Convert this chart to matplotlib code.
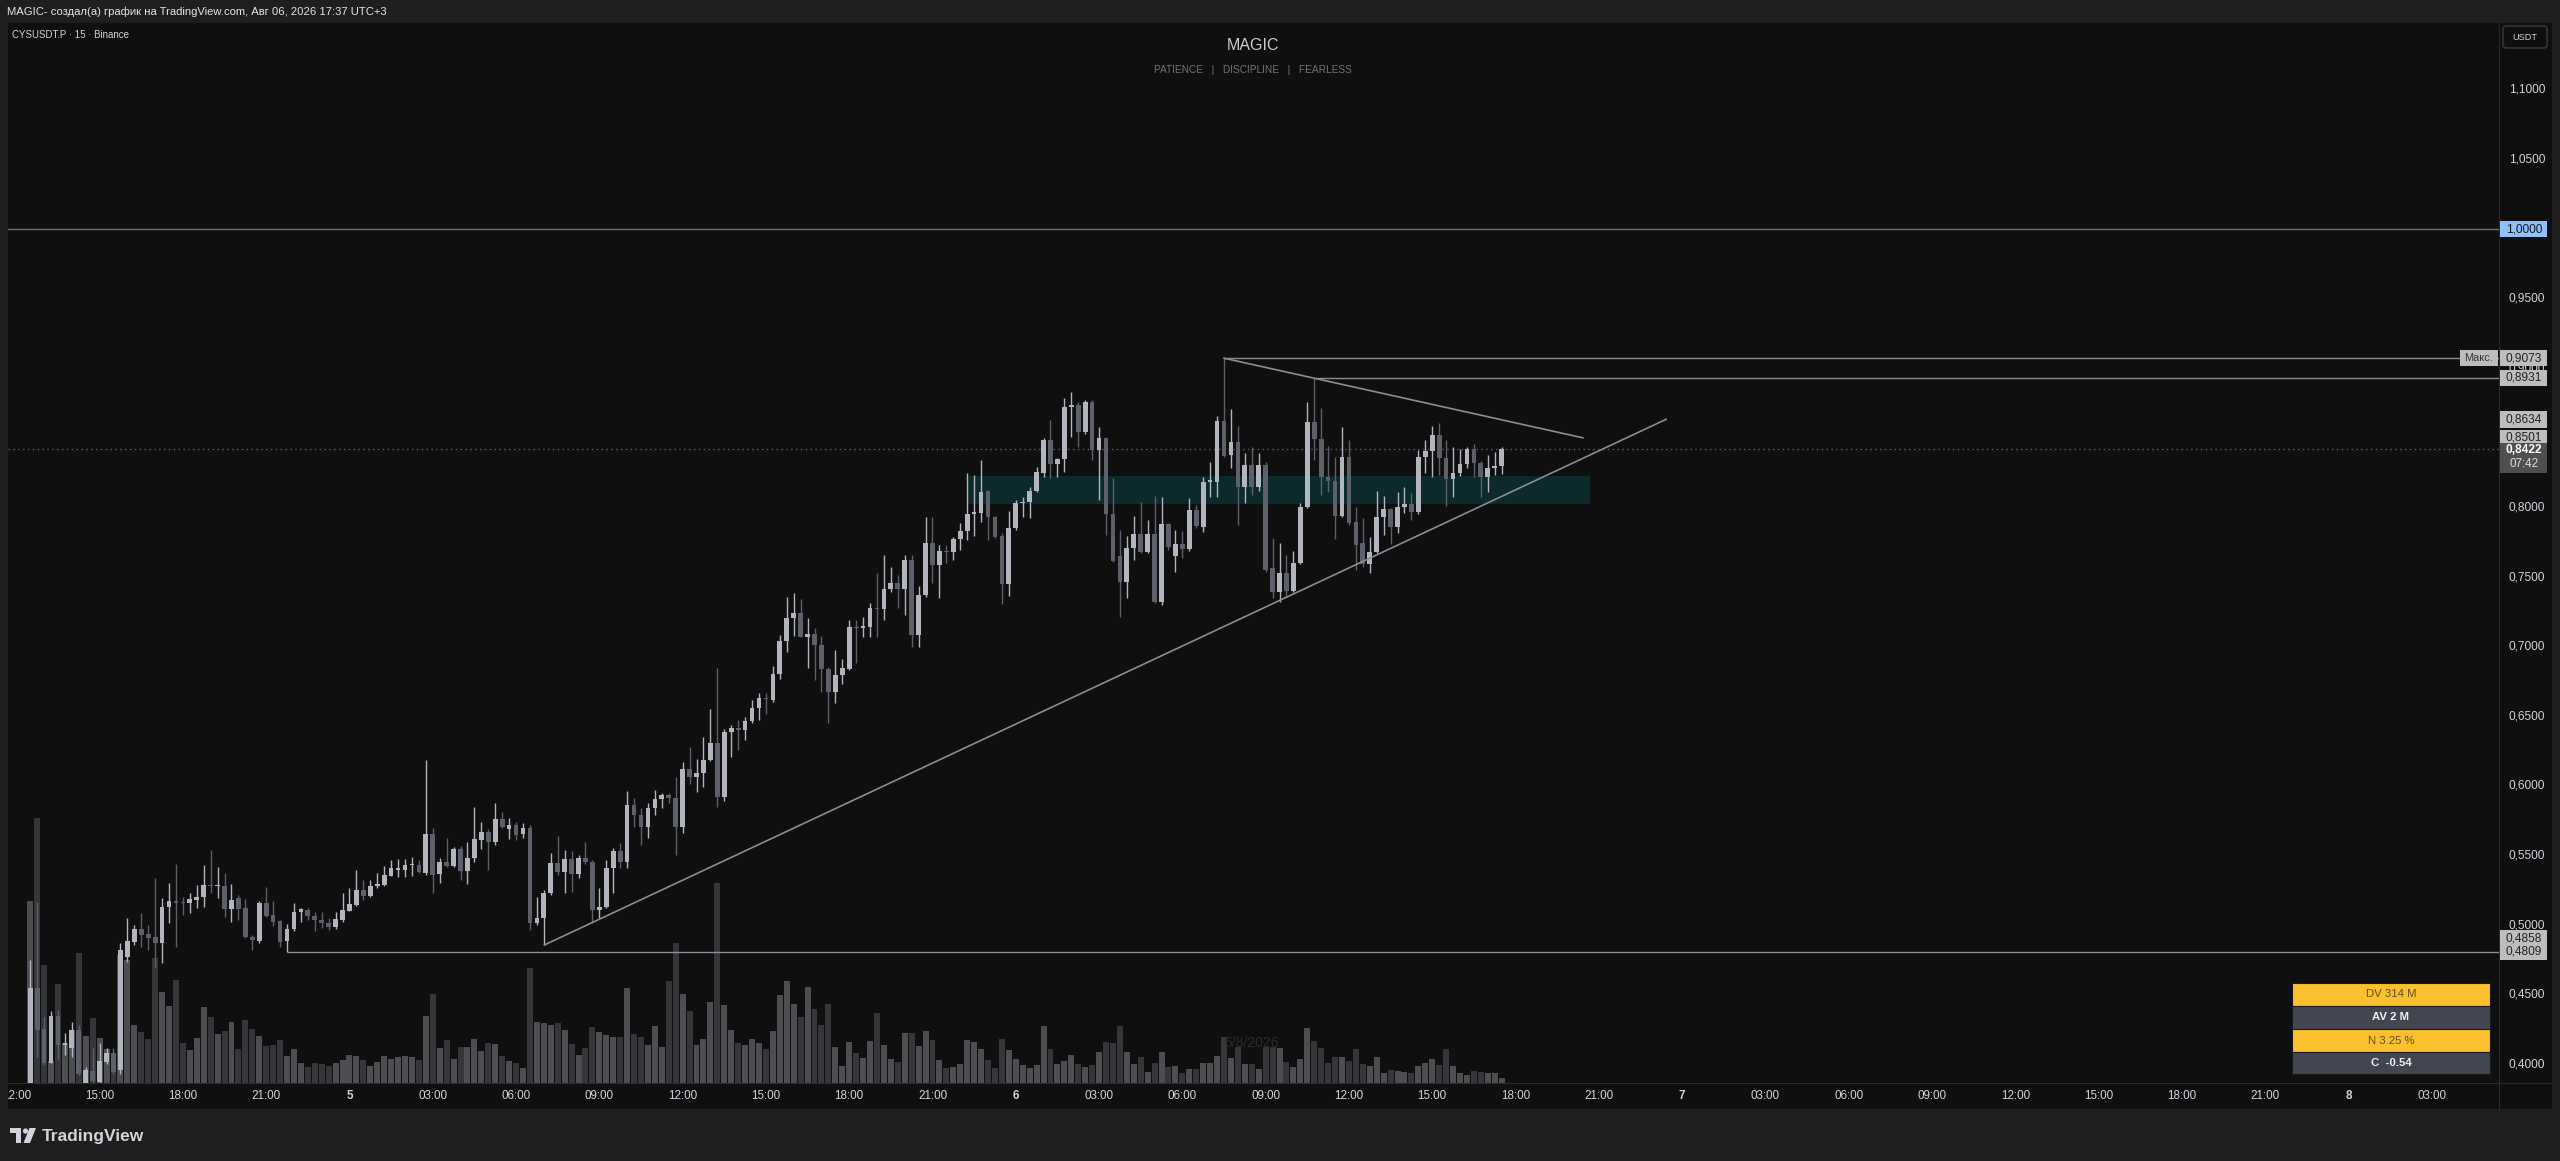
import numpy as np
import matplotlib.pyplot as plt
from matplotlib.patches import Rectangle, FancyBboxPatch, Polygon, Circle
from matplotlib.transforms import blended_transform_factory as blend, IdentityTransform

plt.rcParams['font.family'] = ['Liberation Sans', 'DejaVu Sans']

# CYSUSDT.P 15m candles, bar index 0 = 5 Apr 00:00 (UTC+3)
FIRST_BAR = -46
opens = [
    .3700, .4546, .4252, .4013, .4348, .4139, .4115, .4247, .3864, .3955,
    .3870, .4020, .4080, .3960, .4774, .4882, .4970, .4937, .4918, .4875,
    .5128, .5176, .5169, .5162, .5181, .5200, .5289, .5282, .5282, .5114,
    .5193, .5121, .4918, .4889, .5162, .5073, .5033, .4889, .4970, .5097,
    .5109, .5066, .5037, .5018, .4990, .5037, .5105, .5145, .5253, .5210,
    .5282, .5289, .5354, .5397, .5397, .5430, .5433, .5378, .5655, .5368,
    .5456, .5428, .5545, .5392, .5480, .5612, .5672, .5600, .5761, .5694,
    .5720, .5655, .5696, .5013, .5054, .5234, .5444, .5385, .5473, .5366,
    .5480, .5456, .5109, .5133, .5409, .5535, .5456, .5864, .5792, .5703,
    .5840, .5904, .5935, .5911, .5708, .6120, .6067, .6091, .6187, .6311,
    .5919, .6390, .6414, .6402, .6469, .6558, .6630, .6618, .6805, .7044,
    .7205, .7245, .7073, .7092, .7013, .6838, .6678, .6797, .6840, .7145,
    .7133, .7140, .7281, .7270, .7413, .7461, .7413, .7624, .7085, .7372,
    .7748, .7588, .7691, .7681, .7772, .7834, .7954, .7960, .8122, .7935,
    .7796, .7451, .7851, .8031, .8043, .8122, .8250, .8486, .8313, .8347,
    .8725, .8737, .8545, .8761, .8414, .8498, .7954, .7650, .7468, .7707,
    .7810, .7683, .7810, .7324, .7882, .7652, .7738, .7700, .7983, .7863,
    .8186, .8186, .8625, .8378, .8474, .8146, .8306, .8150, .8306, .7564,
    .7396, .7528, .7403, .7604, .8007, .8617, .8490, .8222, .8194, .7940,
    .8366, .7897, .7748, .7595, .7683, .7930, .7988, .7863, .8007, .8026,
    .7971, .8366, .8409, .8522, .8354, .8203, .8251, .8313, .8419, .8323,
    .8217, .8282, .8299,
]
highs = [
    .4750, .5169, .4343, .4386, .4391, .4223, .4307, .4283, .3984, .4115,
    .4151, .4115, .4115, .4870, .5049, .5002, .5090, .5002, .5337, .5193,
    .5301, .5440, .5205, .5228, .5289, .5433, .5540, .5421, .5377, .5296,
    .5217, .5186, .4930, .5176, .5277, .5176, .5037, .5009, .5157, .5121,
    .5121, .5097, .5097, .5049, .5097, .5233, .5265, .5397, .5325, .5325,
    .5373, .5425, .5468, .5473, .5473, .5488, .5468, .6190, .5696, .5480,
    .5624, .5564, .5569, .5600, .5852, .5744, .5689, .5880, .5816, .5768,
    .5744, .5737, .5720, .5205, .5253, .5516, .5641, .5540, .5535, .5504,
    .5600, .5470, .5265, .5468, .5552, .5593, .5967, .5911, .5840, .5876,
    .5971, .5947, .5947, .6067, .6175, .6283, .6191, .6354, .6551, .6845,
    .6407, .6438, .6474, .6498, .6618, .6666, .6666, .6862, .7085, .7360,
    .7384, .7341, .7205, .7133, .7078, .6857, .6977, .6910, .7193, .7193,
    .7212, .7317, .7528, .7660, .7576, .7516, .7659, .7659, .7437, .7935,
    .7935, .7731, .7731, .7791, .7887, .8251, .8234, .8342, .8126, .7940,
    .7815, .7978, .8055, .8074, .8150, .8294, .8498, .8629, .8354, .8785,
    .8833, .8761, .8773, .8773, .8581, .8510, .8210, .7839, .7796, .7940,
    .8043, .7911, .8083, .8079, .7892, .7839, .7834, .8067, .8020, .8222,
    .8330, .8658, .9073, .8706, .8586, .8395, .8438, .8390, .8330, .7779,
    .7748, .7659, .7691, .8031, .8761, .8931, .8713, .8443, .8366, .8577,
    .8486, .8007, .7923, .7791, .8122, .8083, .7995, .8115, .8150, .8103,
    .8414, .8486, .8586, .8610, .8486, .8433, .8419, .8433, .8457, .8337,
    .8378, .8402, .8433,
]
lows = [
    .3600, .4056, .3996, .4008, .4032, .4068, .4056, .3920, .3840, .3850,
    .3850, .4000, .3930, .3930, .4738, .4860, .4846, .4822, .4702, .4726,
    .5013, .4841, .5073, .5085, .5121, .5133, .5229, .5193, .5061, .5025,
    .5037, .4906, .4822, .4875, .5061, .4995, .4846, .4809, .4960, .5025,
    .5037, .4961, .4978, .4966, .4970, .5025, .5100, .5140, .5181, .5200,
    .5265, .5280, .5350, .5344, .5344, .5354, .5375, .5361, .5229, .5306,
    .5420, .5420, .5325, .5296, .5456, .5545, .5397, .5576, .5700, .5617,
    .5612, .5624, .4966, .5001, .4858, .5220, .5361, .5234, .5241, .5337,
    .5440, .5018, .5049, .5120, .5229, .5409, .5409, .5708, .5576, .5624,
    .5792, .5840, .5880, .5504, .5660, .6014, .5959, .5995, .6180, .5847,
    .5895, .6211, .6259, .6330, .6450, .6474, .6517, .6605, .6766, .6965,
    .7078, .7068, .6845, .6762, .6678, .6450, .6599, .6733, .6830, .6881,
    .7068, .7070, .7068, .7193, .7396, .7276, .7229, .7000, .7000, .7360,
    .7456, .7348, .7605, .7624, .7695, .7767, .7796, .7899, .7767, .7779,
    .7307, .7365, .7839, .7935, .7923, .8110, .8220, .8210, .8222, .8258,
    .8510, .8438, .8530, .8342, .8055, .7803, .7612, .7212, .7348, .7624,
    .7677, .7670, .7312, .7300, .7695, .7540, .7636, .7690, .7850, .7827,
    .8079, .8079, .8360, .8282, .7875, .8031, .8091, .8122, .7540, .7348,
    .7324, .7360, .7390, .7595, .7995, .8342, .8091, .8115, .7772, .7930,
    .7875, .7552, .7576, .7533, .7670, .7803, .7738, .7815, .7964, .7911,
    .7955, .8246, .8217, .8234, .8012, .8079, .8226, .8282, .8217, .8079,
    .8115, .8234, .8241,
]
closes = [
    .4546, .4247, .4013, .4348, .4139, .4156, .4247, .3930, .3960, .3880,
    .4027, .4080, .3948, .4822, .4889, .4970, .4930, .4906, .4875, .5133,
    .5176, .5162, .5157, .5186, .5205, .5289, .5282, .5287, .5114, .5181,
    .5114, .4918, .4894, .5162, .5069, .5021, .4882, .4975, .5097, .5114,
    .5066, .5037, .5013, .4990, .5042, .5109, .5152, .5253, .5210, .5282,
    .5296, .5361, .5409, .5409, .5433, .5433, .5385, .5655, .5361, .5456,
    .5428, .5545, .5392, .5480, .5617, .5672, .5600, .5761, .5703, .5717,
    .5648, .5696, .5013, .5054, .5234, .5444, .5385, .5473, .5366, .5480,
    .5456, .5109, .5133, .5409, .5535, .5456, .5864, .5792, .5703, .5840,
    .5904, .5935, .5911, .5708, .6120, .6067, .6091, .6187, .6311, .5919,
    .6390, .6414, .6402, .6469, .6558, .6630, .6625, .6805, .7044, .7205,
    .7245, .7073, .7092, .7013, .6838, .6678, .6797, .6845, .7145, .7133,
    .7150, .7281, .7270, .7413, .7461, .7413, .7624, .7085, .7372, .7748,
    .7588, .7691, .7681, .7772, .7834, .7954, .7970, .8115, .7935, .7791,
    .7451, .7851, .8031, .8043, .8122, .8258, .8486, .8313, .8347, .8725,
    .8737, .8545, .8761, .8414, .8498, .7954, .7619, .7468, .7707, .7810,
    .7683, .7810, .7324, .7882, .7719, .7738, .7700, .7983, .7870, .8186,
    .8196, .8625, .8371, .8474, .8146, .8306, .8150, .8306, .7552, .7396,
    .7528, .7403, .7604, .8007, .8617, .8490, .8222, .8194, .7940, .8366,
    .7892, .7731, .7595, .7683, .7930, .7988, .7863, .8007, .8026, .7971,
    .8366, .8409, .8522, .8354, .8203, .8251, .8313, .8419, .8323, .8217,
    .8282, .8299, .8422,
]
volumes = [  # x10k
    182, 265, 118, 22, 99, 40, 53, 130, 47, 65,
    45, 34, 30, 128, 123, 58, 51, 44, 125, 91,
    77, 103, 40, 33, 45, 76, 66, 49, 52, 61,
    34, 63, 54, 47, 37, 38, 43, 27, 34, 20,
    16, 20, 19, 17, 20, 23, 28, 27, 23, 17,
    21, 27, 24, 26, 27, 26, 23, 67, 89, 35,
    43, 24, 36, 36, 44, 32, 40, 39, 27, 22,
    20, 15, 115, 61, 60, 58, 60, 53, 39, 28,
    35, 56, 51, 48, 46, 46, 95, 49, 46, 38,
    57, 36, 102, 140, 89, 72, 38, 44, 81, 200,
    78, 53, 40, 38, 44, 40, 34, 52, 88, 102,
    79, 66, 96, 74, 58, 79, 36, 17, 41, 30,
    25, 42, 70, 38, 24, 21, 50, 50, 37, 52,
    43, 23, 15, 16, 19, 43, 41, 34, 23, 15,
    44, 33, 24, 18, 15, 18, 57, 34, 19, 22,
    28, 19, 16, 18, 31, 41, 40, 57, 31, 19,
    26, 11, 20, 31, 16, 17, 10, 14, 14, 20,
    20, 27, 46, 25, 36, 19, 19, 14, 36, 36,
    35, 21, 16, 24, 55, 42, 35, 20, 26, 26,
    22, 34, 19, 17, 26, 10, 13, 12, 11, 10,
    17, 20, 24, 18, 34, 17, 10, 8, 12, 11,
    10, 10, 5,
]

price_ticks = [1.10, 1.05, 1.00, 0.95, 0.90, 0.85, 0.80, 0.75, 0.70,
               0.65, 0.60, 0.55, 0.50, 0.45, 0.40]
time_ticks = list(range(-48, 301, 12))
time_labels = ['12:00', '15:00', '18:00', '21:00', '5', '03:00', '06:00', '09:00',
               '12:00', '15:00', '18:00', '21:00', '6', '03:00', '06:00', '09:00',
               '12:00', '15:00', '18:00', '21:00', '7', '03:00', '06:00', '09:00',
               '12:00', '15:00', '18:00', '21:00', '8', '03:00']
day_marks = ['5', '6', '7', '8']

# drawings
level_round = 1.0
max_high, max_bar = 0.9073, 126
second_high, second_bar = 0.8931, 139
base_low, base_bar = 0.4809, -9
last_price, countdown = 0.8422, '07:42'
fall_bars, fall_prices = [126, 177.7], [0.9073, 0.8501]
rise_bars, rise_prices = [28.1, 189.7], [0.4858, 0.8634]
zone_bars, zone_prices = [89.1, 178.7], [0.8026, 0.8229]
stat_rows = ['DV 314 M', 'AV 2 M', 'N 3.25 %', 'C  -0.54']

BG, FRAME, SEP = '#0f0f0f', '#1e1e1e', '#2a2a2a'
UP, DOWN = '#b2b5be', '#5d606b'
VUP, VDOWN = '#4d4e52', '#35363a'
LINE, TXT = '#8a8d94', '#d1d4dc'
YEL, SLATE = '#fbc02d', '#434651'

W, H = 2560, 1161
PL, PT, PR, PB, SR, TB = 8, 23, 2499, 1083, 2552, 1109


def box(x0, y0, x1, y1):
    return [x0 / W, 1 - y1 / H, (x1 - x0) / W, (y1 - y0) / H]


def prect(x0, y0, x1, y1, **kw):
    return Rectangle((x0, H - y1), x1 - x0, y1 - y0, transform=IdentityTransform(), **kw)


fig = plt.figure(figsize=(W / 100, H / 100), dpi=100, facecolor=FRAME)

ax = fig.add_axes(box(PL, PT, PR, PB))
axv = ax.twinx()
ax.set_zorder(2)
axv.set_zorder(1)
ax.patch.set_visible(False)
axv.patch.set_visible(True)
axv.patch.set_facecolor(BG)
for a in (ax, axv):
    for s in a.spines.values():
        s.set_visible(False)
    a.tick_params(left=False, right=False, bottom=False, top=False,
                  labelleft=False, labelright=False, labelbottom=False)

x = np.arange(FIRST_BAR, FIRST_BAR + len(closes))
o, hi, lo, c, v = map(np.array, (opens, highs, lows, closes, volumes))
up = c >= o

ax.set_xlim(-49.2, 309.7)
ax.set_ylim(0.3866, 1.1481)
axv.set_ylim(0, v.max() * 4)

axv.bar(x, v, width=0.86, color=np.where(up, VUP, VDOWN), linewidth=0)

# zone + levels
ax.add_patch(Rectangle((zone_bars[0], zone_prices[0]), zone_bars[1] - zone_bars[0],
                       zone_prices[1] - zone_prices[0], facecolor='#0c2a2b',
                       edgecolor='none', zorder=1))
ax.axhline(level_round, color='#5a7290', lw=1, zorder=2)
ax.axhline(last_price, color='#5d606b', lw=1, ls=(0, (1, 2.5)), zorder=2)
xmax = ax.get_xlim()[1]
ax.hlines([max_high, second_high, base_low], [max_bar, second_bar, base_bar], xmax,
          color=LINE, lw=1, zorder=6)
ax.plot(fall_bars, fall_prices, color=LINE, lw=1.2, zorder=6)
ax.plot(rise_bars, rise_prices, color=LINE, lw=1.2, zorder=6)

# candles
cols = np.where(up, UP, DOWN)
ax.vlines(x, lo, hi, colors=cols, linewidth=1.0, zorder=4)
ax.bar(x, np.maximum(np.abs(c - o), 0.0007), bottom=np.minimum(o, c), width=0.68,
       color=cols, linewidth=0, zorder=5)

ax.text(130, 0.4154, '6/8/2026', color='#2b2b2b', fontsize=10, ha='center',
        va='center', zorder=7)

# "Макс." tag at the right edge
bx = blend(ax.transAxes, ax.transData)
bh = 0.0118
ax.add_patch(Rectangle((0.9843, max_high - bh / 2), 0.0153, bh, transform=bx,
                       facecolor='#bdbdbd', edgecolor='none', zorder=9, clip_on=False))
ax.text(0.99195, max_high, 'Макс.', transform=bx, ha='center', va='center',
        fontsize=7.8, color='#333333', zorder=10)


# stats table (bottom-right)
def ay(py):
    return (PB - py) / (PB - PT)


tx0, tx1 = (2292 - PL) / (PR - PL), (2490 - PL) / (PR - PL)
row_y = [983, 1006, 1029, 1052, 1074]
for k, label in enumerate(stat_rows):
    y1, y0 = ay(row_y[k]), ay(row_y[k + 1])
    yellow = k % 2 == 0
    ax.add_patch(Rectangle((tx0, y0), tx1 - tx0, y1 - y0, transform=ax.transAxes,
                           facecolor=YEL if yellow else SLATE, edgecolor='#1a1a1a',
                           lw=0.8, zorder=10))
    ax.text((tx0 + tx1) / 2, (y0 + y1) / 2, label, transform=ax.transAxes,
            ha='center', va='center', fontsize=8.2, zorder=11,
            color='#5e4f25' if yellow else '#f0f0f0',
            fontweight='normal' if yellow else 'bold')

# price scale panel
axp = fig.add_axes(box(PR, PT, SR, PB), sharey=ax)
axp.set_facecolor(BG)
axp.set_xlim(0, 1)
axp.tick_params(left=False, right=False, bottom=False, labelleft=False, labelbottom=False)
for name, s in axp.spines.items():
    s.set_visible(name == 'left')
    s.set_color(SEP)
pb = blend(axp.transAxes, axp.transData)
for p in price_ticks:
    axp.text(0.53, p, f'{p:.4f}'.replace('.', ','), transform=pb, ha='center',
             va='center', fontsize=8.6, color=TXT, zorder=2)

# (price, tag position, face, text colour); the 0,4858 tag is nudged so it
# stays readable just above the 0,4809 tag
tags = [(rise_prices[0], base_low + 0.0096, '#bdbdbd', '#222222'),
        (base_low, base_low, '#bdbdbd', '#222222'),
        (rise_prices[1], rise_prices[1], '#bdbdbd', '#222222'),
        (fall_prices[1], fall_prices[1], '#bdbdbd', '#222222'),
        (second_high, second_high, '#bdbdbd', '#222222'),
        (max_high, max_high, '#bdbdbd', '#222222'),
        (level_round, level_round, '#90bff9', '#131722')]
for n, (p, py, fc, tc) in enumerate(tags):
    axp.add_patch(Rectangle((0.02, py - bh / 2), 0.886, bh, transform=pb,
                            facecolor=fc, edgecolor='none', zorder=3 + n))
    axp.text(0.47, py, f'{p:.4f}'.replace('.', ','), transform=pb, ha='center',
             va='center', fontsize=8.6, color=tc, zorder=3 + n)
# last price with countdown
axp.add_patch(Rectangle((0.02, last_price - 0.0171), 0.886, 0.0216, transform=pb,
                        facecolor='#4f4f52', edgecolor='none', zorder=20))
axp.text(0.47, last_price - 0.0012, f'{last_price:.4f}'.replace('.', ','), transform=pb,
         ha='center', va='center', fontsize=8.6, color='#ffffff', fontweight='bold', zorder=21)
axp.text(0.47, last_price - 0.0108, countdown, transform=pb, ha='center', va='center',
         fontsize=8.4, color='#e0e0e0', zorder=21)

# time scale panel
axt = fig.add_axes(box(PL, PB, PR, TB), sharex=ax)
axt.set_facecolor(BG)
axt.tick_params(left=False, bottom=False, labelleft=False, labelbottom=False)
for name, s in axt.spines.items():
    s.set_visible(name == 'top')
    s.set_color(SEP)
tb = blend(axt.transData, axt.transAxes)
for t, lab in zip(time_ticks, time_labels):
    axt.text(t, 0.5, lab, transform=tb, ha='center', va='center', fontsize=8.4,
             color=TXT, fontweight='bold' if lab in day_marks else 'normal', clip_on=True)

axc = fig.add_axes(box(PR, PB, SR, TB))
axc.set_facecolor(BG)
axc.set_xticks([])
axc.set_yticks([])
for name, s in axc.spines.items():
    s.set_visible(name in ('left', 'top'))
    s.set_color(SEP)

# header / titles
fig.text(7 / W, 1 - 12 / H, 'MAGIC- создал(а) график на TradingView.com, Авг 06, 2026 17:37 UTC+3',
         fontsize=8.1, color='#e6e6e6', va='center', ha='left')
fig.text(12 / W, 1 - 35 / H, 'CYSUSDT.P · 15 · Binance', fontsize=7.0, color=TXT,
         va='center', ha='left', zorder=5)
fig.text(1253 / W, 1 - 46 / H, 'MAGIC', fontsize=11.5, color='#c8cad0', ha='center',
         va='center', zorder=5)
fig.text(1253 / W, 1 - 70 / H, 'PATIENCE   |   DISCIPLINE   |   FEARLESS', fontsize=7.3,
         color='#6f727b', ha='center', va='center', zorder=5)

usdt = FancyBboxPatch((2503, H - 48), 44, 22, boxstyle='round,pad=0,rounding_size=3',
                      transform=IdentityTransform(), facecolor=BG, edgecolor='#3a3c44',
                      lw=1, zorder=10)
fig.add_artist(usdt)
fig.text(2525, H - 37, 'USDT', transform=IdentityTransform(), fontsize=6.6, color=TXT,
         ha='center', va='center', zorder=11)

# footer logo
for patch in (prect(10, 1128, 21, 1133), prect(16, 1128, 21, 1143)):
    patch.set_facecolor('#d1d4dc')
    patch.set_zorder(10)
    fig.add_artist(patch)
fig.add_artist(Circle((25.5, H - 1131), 2.6, transform=IdentityTransform(),
                      facecolor='#d1d4dc', zorder=10))
fig.add_artist(Polygon([(29.5, H - 1128), (36, H - 1128), (30, H - 1143), (23.5, H - 1143)],
                       closed=True, transform=IdentityTransform(), facecolor='#d1d4dc',
                       zorder=10))
fig.text(42, H - 1136, 'TradingView', transform=IdentityTransform(), fontsize=12.5,
         fontweight='bold', color='#d1d4dc', ha='left', va='center', zorder=10)

fig.savefig('out.png', dpi=100, facecolor=FRAME)
